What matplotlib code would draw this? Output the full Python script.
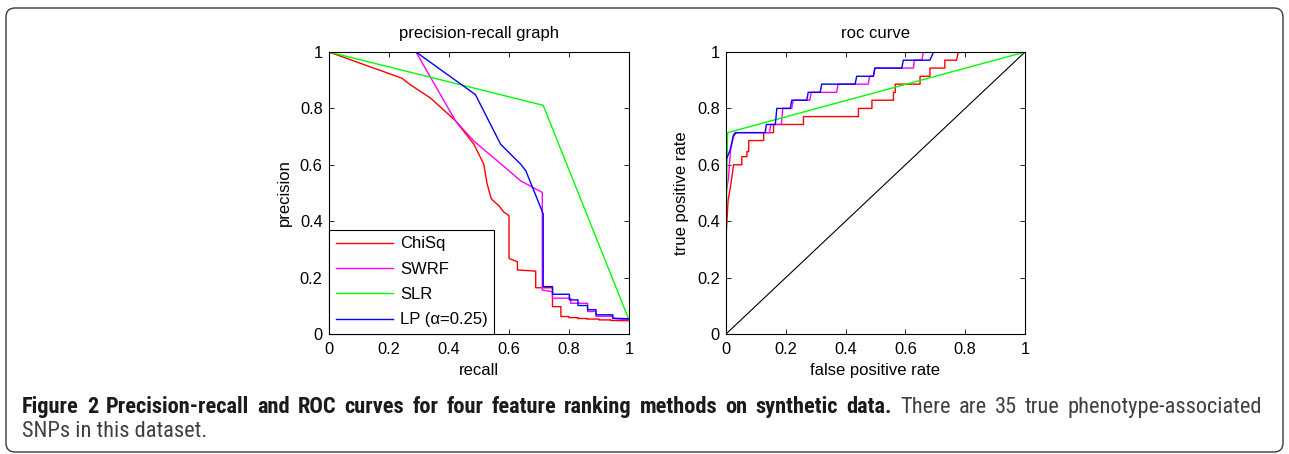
import matplotlib
matplotlib.use('Agg')
import matplotlib.pyplot as plt
from matplotlib.patches import FancyBboxPatch
from matplotlib.transforms import IdentityTransform

plt.rcParams['font.family'] = ['Liberation Sans', 'DejaVu Sans']

RED = '#ff0000'
MAGENTA = '#ff00ff'
GREEN = '#00ff00'
BLUE = '#0000ff'

labels = ['ChiSq', 'SWRF', 'SLR', 'LP (\u03b1=0.25)']

# precision-recall curves
chisq_recall = [0, 0.243, 0.271, 0.338, 0.421, 0.483, 0.516, 0.527, 0.541, 0.566, 0.583, 0.600,
                0.600, 0.628, 0.628, 0.689, 0.689, 0.745, 0.745, 0.773, 0.773, 0.80, 0.80, 0.83,
                0.83, 0.86, 0.86, 0.90, 0.90, 0.94, 0.94, 1.0]
chisq_prec = [1.0, 0.907, 0.884, 0.837, 0.757, 0.673, 0.602, 0.532, 0.479, 0.455, 0.432, 0.42,
              0.268, 0.256, 0.227, 0.223, 0.164, 0.164, 0.097, 0.097, 0.062, 0.062, 0.058, 0.058,
              0.055, 0.055, 0.053, 0.053, 0.050, 0.050, 0.048, 0.047]

swrf_recall = [0, 0.29, 0.421, 0.483, 0.561, 0.639, 0.711, 0.711, 0.745, 0.745, 0.806, 0.806,
               0.862, 0.862, 0.89, 0.89, 0.946, 0.946, 1.0]
swrf_prec = [1.0, 1.0, 0.757, 0.684, 0.614, 0.543, 0.502, 0.156, 0.150, 0.127, 0.127, 0.109,
             0.109, 0.080, 0.080, 0.063, 0.063, 0.055, 0.050]

slr_recall = [0, 0.714, 1.0]
slr_prec = [1.0, 0.811, 0.05]

lp_recall = [0, 0.29, 0.488, 0.572, 0.639, 0.656, 0.714, 0.714, 0.745, 0.745, 0.801, 0.801,
             0.830, 0.830, 0.862, 0.862, 0.890, 0.890, 0.946, 0.946, 1.0]
lp_prec = [1.0, 1.0, 0.849, 0.673, 0.602, 0.579, 0.426, 0.168, 0.168, 0.141, 0.141, 0.121,
           0.121, 0.101, 0.101, 0.086, 0.086, 0.068, 0.068, 0.056, 0.054]

# roc curves
chisq_fpr = [0, 0, 0.007, 0.014, 0.02, 0.025, 0.053, 0.053, 0.07, 0.07, 0.076, 0.076, 0.126,
             0.126, 0.159, 0.159, 0.259, 0.259, 0.443, 0.443, 0.488, 0.488, 0.56, 0.56, 0.566,
             0.566, 0.649, 0.649, 0.682, 0.682, 0.732, 0.732, 0.771, 0.777, 1.0]
chisq_tpr = [0, 0.343, 0.475, 0.516, 0.558, 0.6, 0.6, 0.629, 0.629, 0.647, 0.647, 0.686, 0.686,
             0.714, 0.714, 0.743, 0.743, 0.771, 0.771, 0.80, 0.80, 0.829, 0.829, 0.857, 0.857,
             0.886, 0.886, 0.914, 0.914, 0.943, 0.943, 0.971, 0.971, 1.0, 1.0]

swrf_fpr = [0, 0, 0.008, 0.015, 0.025, 0.035, 0.145, 0.15, 0.185, 0.19, 0.22, 0.225, 0.28,
            0.285, 0.37, 0.375, 0.476, 0.48, 0.493, 0.498, 0.627, 0.63, 0.655, 0.66, 1.0]
swrf_tpr = [0, 0.5, 0.55, 0.65, 0.70, 0.714, 0.714, 0.743, 0.743, 0.80, 0.80, 0.829, 0.829,
            0.857, 0.857, 0.886, 0.886, 0.914, 0.914, 0.943, 0.943, 0.971, 0.971, 1.0, 1.0]

slr_fpr = [0, 0, 0.005, 1.0]
slr_tpr = [0, 0.35, 0.714, 1.0]

lp_fpr = [0, 0, 0.014, 0.025, 0.031, 0.131, 0.135, 0.165, 0.17, 0.215, 0.22, 0.27, 0.275,
          0.315, 0.32, 0.432, 0.437, 0.493, 0.498, 0.588, 0.593, 0.682, 0.694, 1.0]
lp_tpr = [0, 0.617, 0.653, 0.706, 0.714, 0.714, 0.743, 0.743, 0.80, 0.80, 0.829, 0.829, 0.857,
          0.857, 0.886, 0.886, 0.914, 0.914, 0.943, 0.943, 0.971, 0.971, 1.0, 1.0]

chance_fpr = [0, 1]
chance_tpr = [0, 1]

ticks = [0, 0.2, 0.4, 0.6, 0.8, 1]
tick_labels = ['0', '0.2', '0.4', '0.6', '0.8', '1']

caption_bold = 'Figure 2 Precision-recall and ROC curves for four feature ranking methods on synthetic data.'
caption_line1 = 'There are 35 true phenotype-associated'
caption_line2 = 'SNPs in this dataset.'

W, H = 1289, 454
fig = plt.figure(figsize=(W / 100, H / 100), dpi=100)
fig.patch.set_facecolor('white')

ax1 = fig.add_axes([329 / W, 1 - 334 / H, 300 / W, 282 / H])
ax2 = fig.add_axes([726 / W, 1 - 334 / H, 299 / W, 282 / H])


def style(ax):
    ax.set_xlim(0, 1)
    ax.set_ylim(0, 1)
    ax.set_xticks(ticks)
    ax.set_yticks(ticks)
    ax.set_xticklabels(tick_labels)
    ax.set_yticklabels(tick_labels)
    ax.tick_params(direction='in', top=True, right=True, length=3.5, width=0.6,
                   labelsize=11.8)
    ax.tick_params(axis='x', pad=6)
    ax.tick_params(axis='y', pad=4.5)
    for s in ax.spines.values():
        s.set_linewidth(0.8)
        s.set_color('black')


lw = 1.0
ax1.plot(chisq_recall, chisq_prec, color=RED, lw=lw, label=labels[0])
ax1.plot(swrf_recall, swrf_prec, color=MAGENTA, lw=lw, label=labels[1])
ax1.plot(slr_recall, slr_prec, color=GREEN, lw=lw, label=labels[2])
ax1.plot(lp_recall, lp_prec, color=BLUE, lw=lw, label=labels[3])
style(ax1)
ax1.set_title('precision-recall graph', fontsize=12, pad=10)
ax1.set_xlabel('recall', fontsize=12, labelpad=4)
ax1.set_ylabel('precision', fontsize=12, labelpad=6)
leg = ax1.legend(loc='lower left', borderaxespad=0, fontsize=12, handlelength=3.45,
                 handletextpad=0.4, labelspacing=0.62, borderpad=0.4, fancybox=False,
                 framealpha=1, edgecolor='black')
leg.get_frame().set_linewidth(0.8)

ax2.plot(chance_fpr, chance_tpr, color='black', lw=0.8)
ax2.plot(chisq_fpr, chisq_tpr, color=RED, lw=lw)
ax2.plot(swrf_fpr, swrf_tpr, color=MAGENTA, lw=lw)
ax2.plot(slr_fpr, slr_tpr, color=GREEN, lw=lw)
ax2.plot(lp_fpr, lp_tpr, color=BLUE, lw=lw)
style(ax2)
ax2.set_title('roc curve', fontsize=12, pad=10)
ax2.set_xlabel('false positive rate', fontsize=12, labelpad=4)
ax2.set_ylabel('true positive rate', fontsize=12, labelpad=6)

# rounded frame around the whole figure
frame = FancyBboxPatch((6, H - 452), W - 12, 444, boxstyle='round,pad=0,rounding_size=9',
                       transform=IdentityTransform(), facecolor='none',
                       edgecolor='#3a3a3a', linewidth=1.0)
fig.patches.append(frame)

# caption: first line justified between the margins, last line left aligned
cap_family = ['Roboto Condensed', 'Liberation Sans Narrow', 'Liberation Sans', 'DejaVu Sans']
renderer = fig.canvas.get_renderer()
x_left, x_right = 22, 1262
y1, y2 = 1 - 413 / H, 1 - 437 / H

last = fig.text(x_left / W, y2, caption_line2, family=cap_family, fontsize=12,
                color='#404040', va='baseline')
cap_size = 12 * 184 / last.get_window_extent(renderer=renderer).width
last.set_fontsize(cap_size)

words = [(w, 'bold', '#1a1a1a') for w in caption_bold.split()] + \
        [(w, 'normal', '#404040') for w in caption_line1.split()]
texts = [fig.text(0, y1, w, family=cap_family, fontsize=cap_size, fontweight=fw, color=c,
                  va='baseline') for w, fw, c in words]
widths = [t.get_window_extent(renderer=renderer).width for t in texts]
gap = (x_right - x_left - sum(widths)) / (len(texts) - 1)
x = x_left
for t, w in zip(texts, widths):
    t.set_x(x / W)
    x += w + gap

fig.savefig('out.png', dpi=100, facecolor='white')
